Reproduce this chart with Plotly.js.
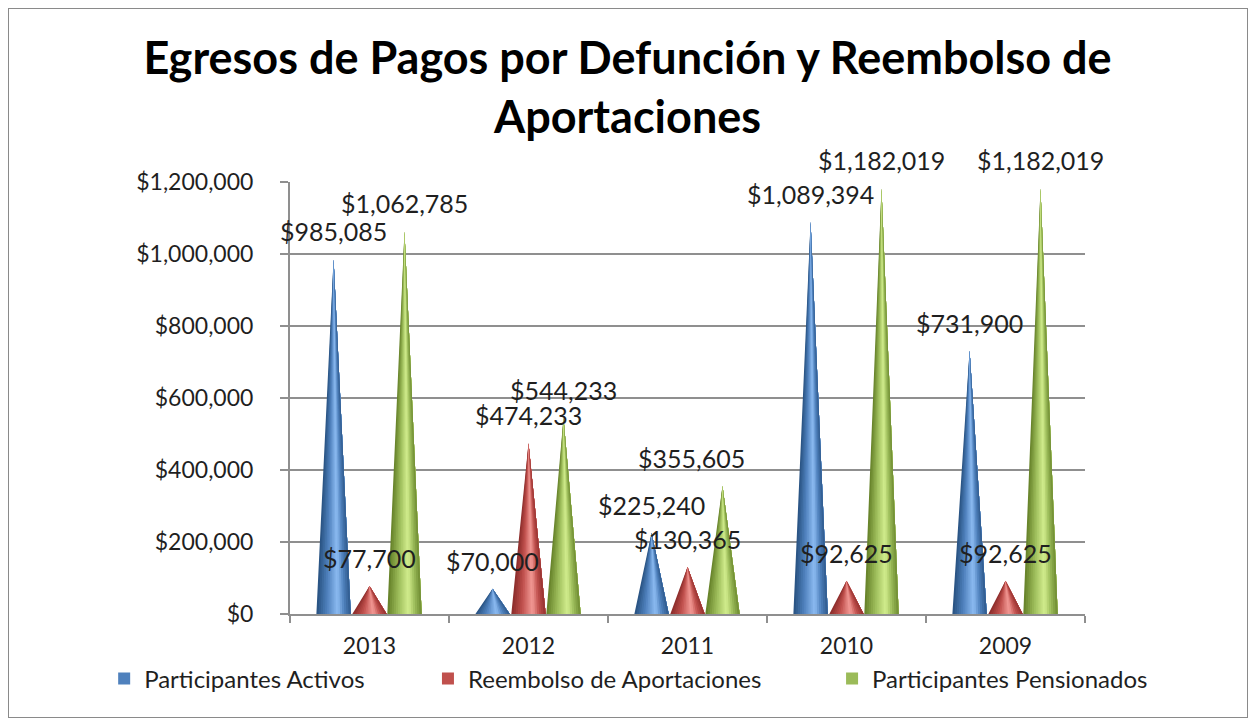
<!DOCTYPE html>
<html>
<head>
<meta charset="utf-8">
<script src="https://cdn.plot.ly/plotly-3.0.1.min.js"></script>
<style>
  html, body { margin: 0; padding: 0; background: #ffffff; }
  #wrap { position: relative; width: 1255px; height: 727px; }
  #frame { position: absolute; left: 8px; top: 8px; width: 1240px; height: 710px; border: 1px solid #8a8a8a; box-sizing: border-box; }
  #chart { position: absolute; left: 0; top: 0; width: 1255px; height: 727px; }
</style>
</head>
<body>
<div id="wrap"><div id="frame"></div><div id="chart"></div></div>
<script>
// ---- data ----
const years = ['2013', '2012', '2011', '2010', '2009'];
const seriesNames = ['Participantes Activos', 'Reembolso de Aportaciones', 'Participantes Pensionados'];
const activos = [985085, 70000, 225240, 1089394, 731900];
const reembolso = [77700, 474233, 130365, 92625, 92625];
const pensionados = [1062785, 544233, 355605, 1182019, 1182019];
const titleText = 'Egresos de Pagos por Defunción y Reembolso de<br>Aportaciones';

// ---- style ----
const allSeries = [activos, reembolso, pensionados];
const baseColors = ['#4f81bd', '#c0504d', '#9bbb59'];
const darkColors = ['#27507f', '#8a2b29', '#637f27'];
const lightColors = ['#8dbcf2', '#f39a96', '#d3ee8e'];
const offsets = [-0.226, 0, 0.22];
const halfW = 0.108;
const N = 16;
const FONT = 'Lato, "Open Sans", sans-serif';

function hex2rgb(h) { return [parseInt(h.substr(1,2),16), parseInt(h.substr(3,2),16), parseInt(h.substr(5,2),16)]; }
function mix(a, b, t) { const A = hex2rgb(a), B = hex2rgb(b); return 'rgb(' + A.map((v, i) => Math.round(v + (B[i]-v)*t)).join(',') + ')'; }
function shade(s, u) {
  if (u < 0.62) {
    const k = u / 0.62;
    return k < 0.5 ? mix(darkColors[s], baseColors[s], k*2) : mix(baseColors[s], lightColors[s], (k-0.5)*2);
  } else {
    const k = (u - 0.62) / 0.38;
    return k < 0.5 ? mix(lightColors[s], baseColors[s], k*2) : mix(baseColors[s], darkColors[s], (k-0.5)*1.6);
  }
}

// each layer covers from its own left edge to the cone's right edge, so no seams show
const traces = [];
allSeries.forEach((vals, s) => {
  for (let j = 0; j < N; j++) {
    const xs = [], ys = [];
    vals.forEach((v, i) => {
      const cx = i + offsets[s];
      const bl = cx - halfW + 2*halfW*j/N;
      const br = cx + halfW;
      xs.push(bl, br, cx, null);
      ys.push(0, 0, v, null);
    });
    const c = shade(s, (j + 0.5) / N);
    traces.push({
      type: 'scatter', mode: 'lines', x: xs, y: ys, fill: 'toself',
      fillcolor: c, line: { color: c, width: 0 }, showlegend: false, hoverinfo: 'skip'
    });
  }
});

// legend proxies
const legendX = [0.083, 0.341, 0.663];
seriesNames.forEach((name, s) => {
  traces.push({
    type: 'bar', x: [null], y: [null], name: name, marker: { color: baseColors[s] },
    legend: s === 0 ? 'legend' : 'legend' + (s + 1), hoverinfo: 'skip'
  });
});

// data labels
const annotations = [];
allSeries.forEach((vals, s) => {
  vals.forEach((v, i) => {
    annotations.push({
      x: i + offsets[s], y: v, xref: 'x', yref: 'y',
      text: '$' + v.toLocaleString('en-US'),
      showarrow: false, yshift: 28, xshift: (s === 2 && i === 2) ? -31 : 0,
      yanchor: 'middle', xanchor: 'center',
      font: { family: FONT, size: 25, color: '#1f1f1f' }
    });
  });
});

const legendBase = {
  orientation: 'h', xref: 'container', yref: 'container', y: 1 - 679/727, yanchor: 'middle',
  xanchor: 'left', font: { family: FONT, size: 24, color: '#1f1f1f' }, bgcolor: 'rgba(0,0,0,0)'
};

const layout = {
  width: 1255, height: 727,
  margin: { l: 290, r: 170, t: 182, b: 113 },
  paper_bgcolor: 'rgba(0,0,0,0)', plot_bgcolor: 'rgba(0,0,0,0)',
  title: {
    text: titleText, x: 0.5, xanchor: 'center', xref: 'container', yref: 'container',
    y: 1 - 74/727, yanchor: 'top',
    font: { family: FONT, size: 45, color: '#000000', weight: 'bold' }
  },
  xaxis: {
    type: 'linear', range: [-0.5, 4.5], tickmode: 'array', tickvals: [0,1,2,3,4], ticktext: years,
    ticks: '', showgrid: false, zeroline: false, showline: true, linecolor: '#8f8f8f', linewidth: 2,
    ticklabelstandoff: 10,
    tickfont: { family: FONT, size: 23, color: '#1f1f1f' },
    minor: { tickmode: 'array', tickvals: [-0.5, 0.5, 1.5, 2.5, 3.5, 4.5], ticks: 'outside', ticklen: 7, tickwidth: 2, tickcolor: '#8f8f8f', showgrid: false },
    fixedrange: true
  },
  yaxis: {
    type: 'linear', range: [0, 1200000], tickmode: 'linear', tick0: 0, dtick: 200000,
    tickprefix: '$', tickformat: ',d', showgrid: true, gridcolor: '#8f8f8f', gridwidth: 2,
    zeroline: false, showline: true, linecolor: '#8f8f8f', linewidth: 2,
    ticks: 'outside', ticklen: 8, tickwidth: 2, tickcolor: '#8f8f8f', ticklabelstandoff: 22,
    tickfont: { family: FONT, size: 23, color: '#1f1f1f' },
    fixedrange: true
  },
  showlegend: true,
  legend: Object.assign({}, legendBase, { x: legendX[0] }),
  legend2: Object.assign({}, legendBase, { x: legendX[1] }),
  legend3: Object.assign({}, legendBase, { x: legendX[2] }),
  annotations: annotations
};

Plotly.newPlot('chart', traces, layout, { displayModeBar: false, staticPlot: true });
</script>
</body>
</html>
